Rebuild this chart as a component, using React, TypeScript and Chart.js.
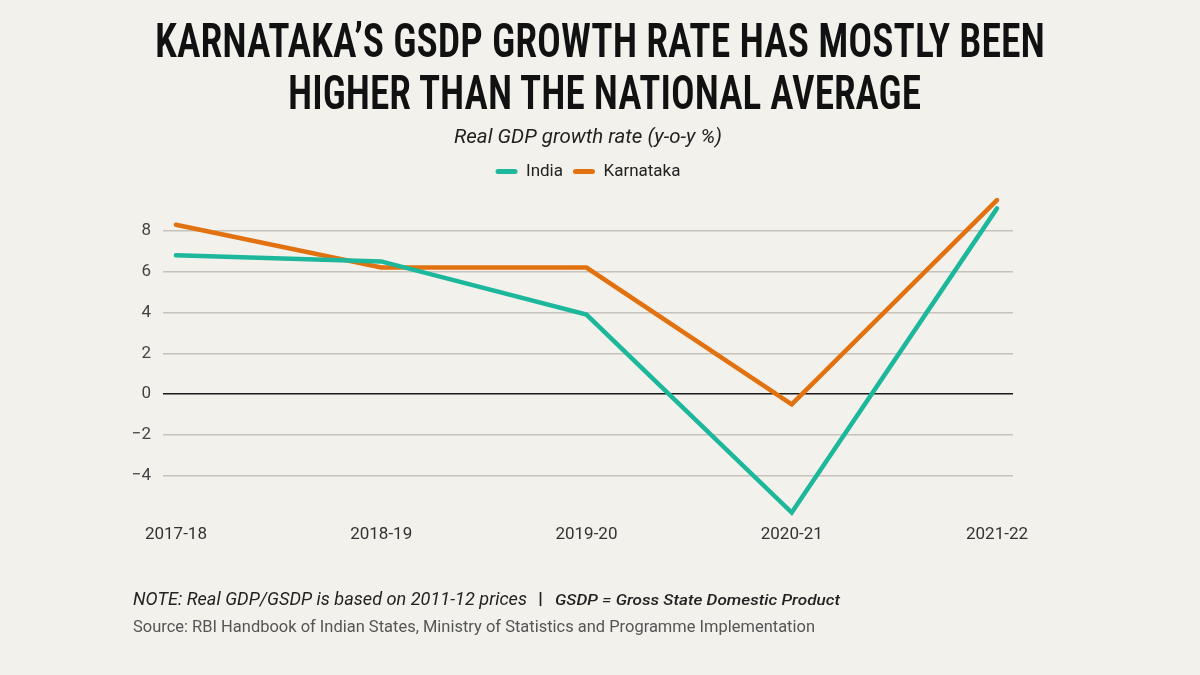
import React, { useEffect, useLayoutEffect, useRef } from "react";
import { Chart, registerables } from "chart.js";

Chart.register(...registerables);

const categories = ["2017-18", "2018-19", "2019-20", "2020-21", "2021-22"];
const indiaValues = [6.8, 6.5, 3.9, -5.8, 9.1];
const karnatakaValues = [8.3, 6.2, 6.2, -0.5, 9.5];
const yTickValues = [-4, -2, 0, 2, 4, 6, 8];
const seriesNames = ["India", "Karnataka"];
const seriesColors = ["#1db89b", "#e2710f"];

const titleLines = [
  "KARNATAKA\u2019S GSDP GROWTH RATE HAS MOSTLY BEEN",
  "HIGHER THAN THE NATIONAL AVERAGE",
];
const subtitleText = "Real GDP growth rate (y-o-y %)";
const noteText = "NOTE: Real GDP/GSDP is based on 2011-12 prices";
const noteDef = "GSDP = Gross State Domestic Product";
const sourceText =
  "Source: RBI Handbook of Indian States, Ministry of Statistics and Programme Implementation";

function Fit(props: { text: string; left: number; top: number; width: number; style: React.CSSProperties }) {
  const ref = useRef<HTMLSpanElement>(null);
  useLayoutEffect(() => {
    const fit = () => {
      const el = ref.current;
      if (!el) return;
      el.style.transform = "none";
      const w = el.getBoundingClientRect().width;
      if (w > 0) el.style.transform = `scaleX(${props.width / w})`;
    };
    fit();
    if ((document as any).fonts && (document as any).fonts.ready) {
      (document as any).fonts.ready.then(fit);
    }
  });
  return (
    <div style={{ position: "absolute", left: props.left, top: props.top, whiteSpace: "nowrap" }}>
      <span
        ref={ref}
        style={{ display: "inline-block", whiteSpace: "nowrap", transformOrigin: "left top", ...props.style }}
      >
        {props.text}
      </span>
    </div>
  );
}

const titleStyle: React.CSSProperties = {
  fontFamily: "Roboto, sans-serif",
  fontStretch: "75%",
  fontWeight: 600,
  fontSize: 49,
  lineHeight: 1,
  color: "#111",
};

export default function App() {
  const canvasRef = useRef<HTMLCanvasElement>(null);

  useEffect(() => {
    const canvas = canvasRef.current;
    if (!canvas) return;
    const chart = new Chart(canvas, {
      type: "line",
      data: {
        datasets: [indiaValues, karnatakaValues].map((vals, si) => ({
          label: seriesNames[si],
          data: vals.map((v, i) => ({ x: i, y: v })),
          borderColor: seriesColors[si],
          backgroundColor: seriesColors[si],
          borderWidth: 4.5,
          pointRadius: 0,
          pointHoverRadius: 0,
          tension: 0,
          borderJoinStyle: "miter" as const,
          borderCapStyle: "round" as const,
        })),
      },
      options: {
        responsive: false,
        animation: false,
        devicePixelRatio: 1,
        layout: { padding: { top: 119, right: 187, bottom: 122, left: 0 } },
        plugins: {
          tooltip: { enabled: false },
          title: {
            display: true,
            fullSize: false,
            text: subtitleText,
            color: "#222",
            font: { family: "Roboto", size: 20.5, style: "italic", weight: "normal" },
            padding: { top: 6.7, bottom: 2.7 },
          },
          legend: {
            display: true,
            fullSize: false,
            position: "top",
            labels: {
              color: "#222",
              font: { family: "Roboto", size: 17 },
              boxWidth: 22,
              boxHeight: 5,
              useBorderRadius: true,
              borderRadius: 2.5,
              padding: 10,
              generateLabels: (ch: any) =>
                ch.data.datasets.map((ds: any, i: number) => ({
                  text: ds.label,
                  fillStyle: seriesColors[i],
                  strokeStyle: seriesColors[i],
                  lineWidth: 0,
                  borderRadius: 2.5,
                  fontColor: "#222",
                  hidden: false,
                  datasetIndex: i,
                })),
            },
          },
        },
        scales: {
          x: {
            type: "linear",
            min: -0.063,
            max: 4.078,
            afterBuildTicks: (scale: any) => {
              scale.ticks = categories.map((_, i) => ({ value: i }));
            },
            grid: { display: false, drawTicks: false },
            border: { display: false },
            ticks: {
              autoSkip: false,
              maxRotation: 0,
              padding: 8,
              color: "#333",
              font: { family: "Roboto", size: 17 },
              callback: (v: any) => categories[Math.round(Number(v))] ?? "",
            },
          },
          y: {
            type: "linear",
            position: "left",
            min: -6,
            max: 10,
            afterBuildTicks: (scale: any) => {
              scale.ticks = yTickValues.map((v) => ({ value: v }));
            },
            afterFit: (scale: any) => {
              scale.width = 163;
            },
            grid: {
              drawTicks: false,
              color: (ctx: any) => (ctx.tick && ctx.tick.value === 0 ? "#1a1a1a" : "#c6c2bc"),
              lineWidth: 1.5,
            },
            border: { display: false },
            ticks: {
              padding: 12,
              color: "#444",
              font: { family: "Roboto", size: 17 },
              callback: (v: any) => String(v).replace("-", "\u2212"),
            },
          },
        },
      },
    });
    return () => chart.destroy();
  }, []);

  return (
    <div
      style={{
        position: "absolute",
        left: 0,
        top: 0,
        width: 1200,
        height: 675,
        background: "#f3f1ec",
        overflow: "hidden",
      }}
    >
      <canvas ref={canvasRef} width={1200} height={675} style={{ position: "absolute", left: 0, top: 0 }} />
      <Fit text={titleLines[0]} left={155} top={15.5} width={890} style={titleStyle} />
      <Fit text={titleLines[1]} left={288} top={67.5} width={633} style={titleStyle} />
      <Fit
        text={noteText}
        left={133}
        top={589}
        width={394}
        style={{ fontFamily: "Roboto, sans-serif", fontStyle: "italic", fontSize: 19, lineHeight: 1, color: "#222" }}
      />
      <Fit
        text="|"
        left={538}
        top={590}
        width={5}
        style={{ fontFamily: "Roboto, sans-serif", fontWeight: "bold", fontSize: 17, lineHeight: 1, color: "#222" }}
      />
      <Fit
        text={noteDef}
        left={555}
        top={591}
        width={285}
        style={{ fontFamily: "Roboto, sans-serif", fontStyle: "italic", fontWeight: 500, fontSize: 15, lineHeight: 1, color: "#222" }}
      />
      <Fit
        text={sourceText}
        left={133}
        top={618}
        width={682}
        style={{ fontFamily: "Roboto, sans-serif", fontSize: 17, lineHeight: 1, color: "#555" }}
      />
    </div>
  );
}
